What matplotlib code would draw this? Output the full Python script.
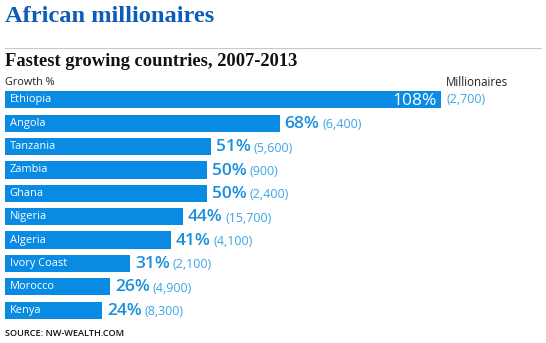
import matplotlib
matplotlib.use("Agg")
import matplotlib.pyplot as plt

countries = ["Ethiopia", "Angola", "Tanzania", "Zambia", "Ghana",
             "Nigeria", "Algeria", "Ivory Coast", "Morocco", "Kenya"]
growth = [108, 68, 51, 50, 50, 44, 41, 31, 26, 24]
millionaires = ["2,700", "6,400", "5,600", "900", "2,400",
                "15,700", "4,100", "2,100", "4,900", "8,300"]

BAR = "#0a8be3"
PCT = "#1a8fdc"
MIL = "#3aa6e6"
TITLE = "#0d5cb8"
SANS = "Open Sans"
SERIF = "Liberation Serif"

W, H = 546, 343
fig = plt.figure(figsize=(W / 100, H / 100), dpi=100)
fig.patch.set_facecolor("white")

def fx(px):
    return px / W

def fy(py):
    return 1 - py / H

# bar axes: 4.04 px per percent point, rows 23.3 px apart
left, right = 5, 541
top, bottom = 88.3, 321.7
ax = fig.add_axes([fx(left), fy(bottom), fx(right - left), (bottom - top) / H])
ax.set_xlim(0, (right - left) / 4.04)
ax.set_ylim(len(countries) - 0.5, -0.5)
ax.axis("off")

ypos = list(range(len(countries)))
ax.barh(ypos, growth, height=0.73, color=BAR, edgecolor="none")

for i, (c, g, m) in enumerate(zip(countries, growth, millionaires)):
    ax.annotate(c, xy=(0, i), xytext=(3.5, 0), textcoords="offset points",
                ha="left", va="center", color="white", fontsize=7.9, family=SANS)
    if i == 0:
        # the longest bar holds its own percentage
        ax.annotate(f"{g}%", xy=(g, i), xytext=(-3, -0.5), textcoords="offset points",
                    ha="right", va="center", color="white", fontsize=12.5,
                    family=SANS)
        ax.annotate(f"({m})", xy=(g, i), xytext=(3.5, 0), textcoords="offset points",
                    ha="left", va="center", color=MIL, fontsize=9, family=SANS)
    else:
        t = ax.annotate(f"{g}%", xy=(g, i), xytext=(3.5, -0.5), textcoords="offset points",
                        ha="left", va="center", color=PCT, fontsize=12.5,
                        family=SANS, fontweight="semibold")
        ax.annotate(f"({m})", xy=(1, 0.5), xycoords=t, xytext=(2, -0.5),
                    textcoords="offset points", ha="left", va="center",
                    color=MIL, fontsize=9, family=SANS)

# headings
fig.text(fx(5), fy(22), "African millionaires", ha="left", va="baseline",
         fontsize=17.6, fontweight="bold", family=SERIF, color=TITLE)
fig.add_artist(plt.Line2D([fx(5), fx(541)], [fy(48), fy(48)], color="#c8c8c8", lw=0.8))
fig.text(fx(5), fy(66), "Fastest growing countries, 2007-2013", ha="left", va="baseline",
         fontsize=13.3, fontweight="bold", family=SERIF, color="#111111")
fig.text(fx(5), fy(82.5), "Growth %", ha="left", va="center",
         fontsize=7.8, family=SANS, color="#222222")
fig.text(fx(446), fy(82.5), "Millionaires", ha="left", va="center",
         fontsize=8.3, family=SANS, color="#222222")
fig.text(fx(5), fy(333), "SOURCE: NW-WEALTH.COM", ha="left", va="center",
         fontsize=6.6, family=SANS, fontweight="semibold", color="#111111")

fig.savefig("out.png", dpi=100)
